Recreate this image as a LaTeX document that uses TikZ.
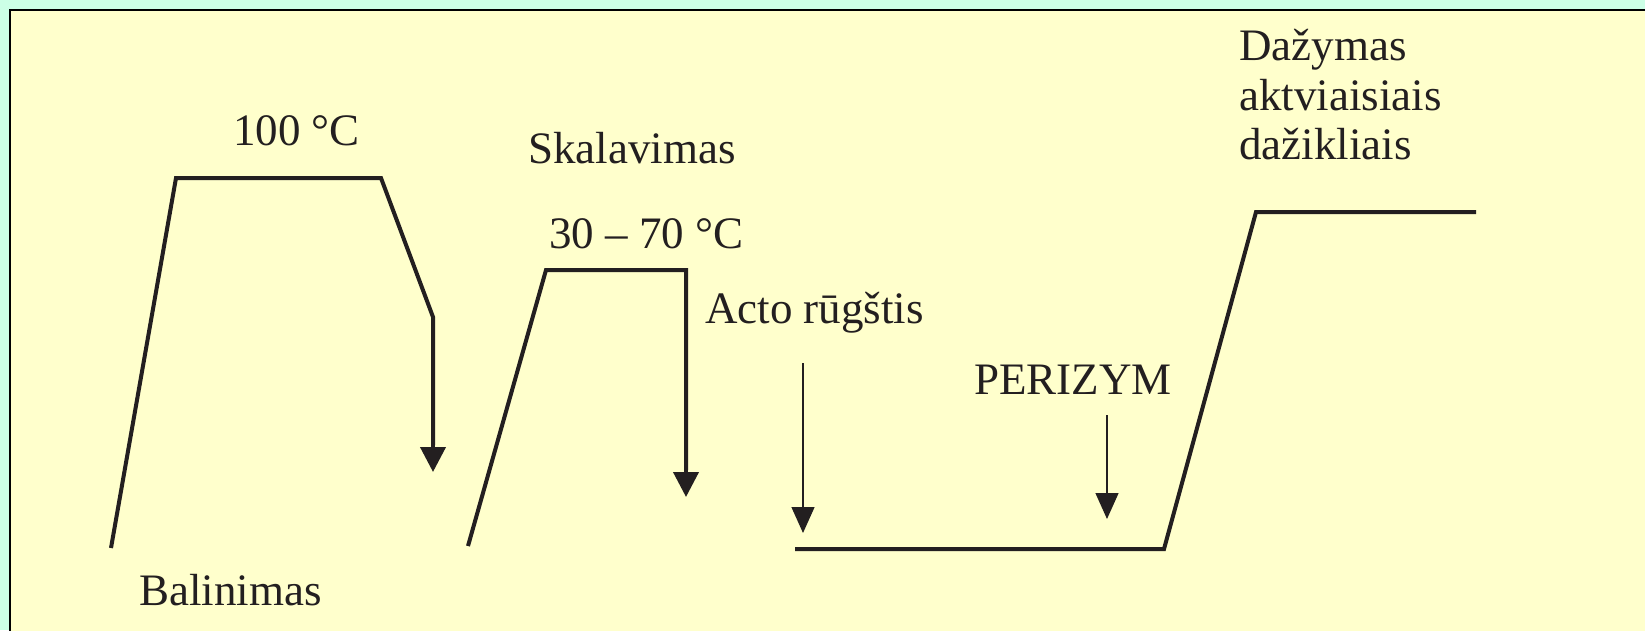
\documentclass[tikz,border=0pt]{standalone}
\usepackage{fontspec}
\setmainfont{Liberation Serif}
\usetikzlibrary{arrows.meta}
\definecolor{mint}{HTML}{CCFFE6}
\definecolor{pale}{HTML}{FFFFCC}
\definecolor{ink}{HTML}{231F20}
\tikzset{
  curve/.style={draw=ink, line width=4pt, line join=miter},
  thickarrow/.style={draw=ink, line width=4pt, -{Triangle[width=25pt,length=25pt]}},
  thinarrow/.style={draw=ink, line width=1.3pt, -{Triangle[width=23pt,length=26pt]}},
  lbl/.style={anchor=base west, inner sep=0pt, text=ink, font=\fontsize{45}{50}\selectfont},
}
\begin{document}
\begin{tikzpicture}[x=1pt,y=-1pt]
\useasboundingbox (0,0) rectangle (1645,630);
\fill[mint] (0,0) rectangle (1645,630);
\filldraw[fill=pale, draw=black, line width=2pt] (10,10) rectangle (1660,645);
% shape 1
\coordinate (a1) at (111,548);
\coordinate (a2) at (176,178);
\coordinate (a3) at (381,178);
\coordinate (a4) at (433,317);
\coordinate (a5) at (433,472);
\draw[curve] (a1) -- (a2) -- (a3) -- (a4) -- (433,445);
\draw[thickarrow] (a4) -- (a5);
% shape 2
\coordinate (b1) at (468,546);
\coordinate (b2) at (546,270);
\coordinate (b3) at (686,270);
\coordinate (b4) at (686,497);
\draw[curve] (b1) -- (b2) -- (b3) -- (686,470);
\draw[thickarrow] (b3) -- (b4);
% shape 3
\coordinate (c1) at (795,549);
\coordinate (c2) at (1164,549);
\coordinate (c3) at (1256,212);
\coordinate (c4) at (1476,212);
\draw[curve] (c1) -- (c2) -- (c3) -- (c4);
% thin arrows
\coordinate (d1) at (803,363);
\coordinate (d2) at (803,533);
\draw[thinarrow] (d1) -- (d2);
\coordinate (e1) at (1107,415);
\coordinate (e2) at (1107,519);
\draw[thinarrow] (e1) -- (e2);
% labels
\node[lbl] (t1) at (233,145) {100 °C};
\node[lbl] (t2) at (528,163) {Skalavimas};
\node[lbl] (t3) at (549,248) {30 – 70 °C};
\node[lbl] (t4) at (705,323) {Acto rūgštis};
\node[lbl] (t5) at (974,394) {PERIZYM};
\node[lbl] (t6) at (139,605) {Balinimas};
\node[lbl] (t7) at (1239,60) {Dažymas};
\node[lbl] (t8) at (1239,110) {aktviaisiais};
\node[lbl] (t9) at (1239,159) {dažikliais};
\end{tikzpicture}
\end{document}
